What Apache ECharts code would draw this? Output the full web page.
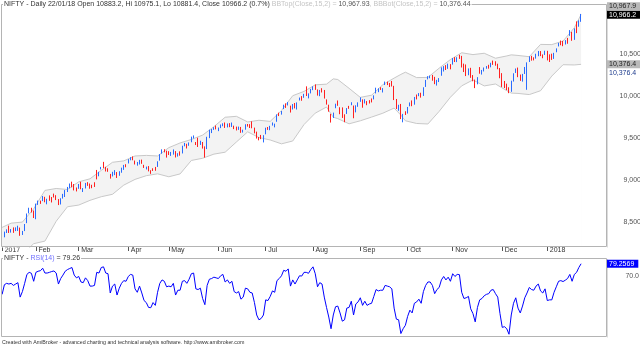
<!DOCTYPE html>
<html>
<head>
<meta charset="utf-8">
<script src="https://cdn.jsdelivr.net/npm/echarts@6/dist/echarts.min.js"></script>
<style>
html,body{margin:0;padding:0;background:#fff;}
#chart{width:640px;height:348px;}
</style>
</head>
<body>
<div id="chart"></div>
<script>
// NIFTY daily candles with Bollinger band (15,2) envelope and an RSI(14) pane

// trading sessions per month
const sessionDays = [
  ['2017-01', [10,11,12,13,16,17,18,19,20,23,24,25,27,30,31]],
  ['2017-02', [1,2,3,6,7,8,9,10,13,14,15,16,17,20,21,22,23,27,28]],
  ['2017-03', [1,2,3,6,7,8,9,10,14,15,16,17,20,21,22,23,24,27,28,29,30,31]],
  ['2017-04', [3,5,6,7,10,11,12,13,17,18,19,20,21,24,25,26,27,28]],
  ['2017-05', [2,3,4,5,8,9,10,11,12,15,16,17,18,19,22,23,24,25,26,29,30,31]],
  ['2017-06', [1,2,5,6,7,8,9,12,13,14,15,16,19,20,21,22,23,27,28,29,30]],
  ['2017-07', [3,4,5,6,7,10,11,12,13,14,17,18,19,20,21,24,25,26,27,28,31]],
  ['2017-08', [1,2,3,4,7,8,9,10,11,14,16,17,18,21,22,23,24,28,29,30,31]],
  ['2017-09', [1,4,5,6,7,8,11,12,13,14,15,18,19,20,21,22,25,26,27,28,29]],
  ['2017-10', [3,4,5,6,9,10,11,12,13,16,17,18,19,23,24,25,26,27,30,31]],
  ['2017-11', [1,2,3,6,7,8,9,10,13,14,15,16,17,20,21,22,23,24,27,28,29,30]],
  ['2017-12', [1,4,5,6,7,8,11,12,13,14,15,18,19,20,21,22,26,27,28,29]],
  ['2018-01', [1,2,3,4,5,8,9,10,11,12,15,16,17,18,19,22]]
];

const opens = [
  8263,8327,8391,8457,8404,8416,8404,8415,8436,8358,8400,8499,8610,8635,8629,
  8570,8715,8748,8758,8801,8765,8794,8798,8819,8819,8775,8739,8800,8818,8894,8919,8955,8943,8904,
  8904,8982,8880,8915,8977,8957,8931,8956,9091,9066,9129,9175,9159,9127,9069,9052,9077,9096,9060,9100,9140,9190,
  9220,9245,9275,9232,9179,9204,9227,9171,9136,9145,9108,9140,9135,9159,9236,9328,9358,9348,
  9339,9306,9320,9341,9308,9320,9328,9420,9433,9421,9462,9517,9454,9469,9433,9454,9392,9380,9516,9582,9613,9635,
  9604,9624,9657,9668,9632,9671,9652,9632,9616,9607,9631,9583,9603,9667,9659,9645,9618,9574,9494,9508,9478,
  9553,9626,9614,9659,9650,9709,9789,9792,9856,9913,9908,9883,9856,9904,9864,9949,9995,9980,10051,9983,10034,
  10101,10128,10076,10000,10075,10065,9956,9894,9782,9759,9863,9914,9850,9864,9783,9804,9881,9907,9886,9811,9906,
  9937,9956,9933,9917,9940,9963,9969,10031,10073,10098,10062,10141,10149,10142,10170,10119,9960,9868,9902,9716,9797,
  9829,9882,9916,9901,10011,10012,10022,10004,10119,10207,10233,10240,10226,10176,10198,10291,10291,10345,10353,10371,
  10390,10440,10424,10468,10477,10370,10339,10295,10323,10228,10180,10152,10325,10285,10314,10341,10365,10344,10401,10413,10376,10333,
  10263,10175,10119,10098,10063,10198,10282,10336,10237,10193,10312,10085,10408,10468,10450,10450,10512,10532,10482,10492,
  10532,10477,10482,10469,10534,10591,10645,10652,10637,10682,10718,10761,10703,10844,10829,10883.2
];

const highs = [
  8294,8390,8417,8461,8420,8440,8440,8460,8438,8398,8480,8605,8673,8673,8640,
  8722,8758,8758,8812,8803,8780,8820,8801,8841,8822,8776,8786,8838,8883,8920,8961,8983,8955,8914,
  8955,8982,8907,8968,8977,8961,8946,8976,9122,9100,9158,9218,9159,9142,9075,9100,9120,9097,9107,9149,9182,9190,
  9250,9274,9283,9234,9217,9242,9245,9183,9162,9168,9119,9142,9158,9225,9310,9367,9368,9351,
  9345,9336,9366,9346,9321,9343,9410,9443,9433,9449,9518,9532,9454,9505,9469,9454,9402,9516,9600,9608,9630,9650,
  9626,9662,9676,9686,9674,9678,9685,9648,9637,9637,9633,9600,9665,9668,9666,9699,9625,9577,9513,9538,9535,
  9624,9632,9646,9686,9672,9782,9802,9822,9897,9913,9928,9886,9905,9917,9924,9982,9999,10026,10115,10032,10085,
  10115,10138,10078,10072,10093,10072,9960,9897,9788,9803,9909,9947,9867,9865,9783,9857,9883,9926,9887,9890,9925,
  9984,9960,9962,9940,9951,9971,10008,10099,10092,10105,10094,10172,10171,10155,10179,10121,9965,9896,9906,9788,9819,
  9870,9924,9948,9989,10018,10035,10039,10104,10191,10236,10243,10251,10228,10192,10213,10341,10355,10367,10385,10379,
  10451,10462,10461,10490,10477,10385,10375,10328,10335,10249,10195,10224,10344,10310,10339,10356,10371,10395,10421,10413,10384,10333,
  10272,10179,10147,10104,10182,10270,10327,10338,10255,10263,10345,10400,10472,10478,10460,10502,10535,10534,10494,10538,
  10537,10495,10503,10513,10566,10631,10659,10655,10664,10690,10783,10762,10804,10887,10899,10975.1
];

const lows = [
  8230,8322,8373,8374,8378,8375,8396,8398,8340,8350,8396,8490,8606,8617,8551,
  8537,8707,8719,8752,8738,8714,8755,8736,8795,8764,8705,8712,8782,8801,8860,8904,8916,8879,8867,
  8898,8893,8860,8902,8933,8899,8905,8920,9010,9047,9128,9143,9104,9100,9019,9045,9061,9027,9053,9089,9123,9154,
  9199,9237,9237,9187,9173,9187,9195,9146,9128,9105,9076,9110,9112,9158,9233,9315,9331,9269,
  9300,9289,9304,9270,9281,9292,9318,9403,9377,9409,9451,9496,9418,9395,9419,9376,9269,9370,9500,9560,9598,9604,
  9583,9619,9641,9621,9627,9630,9633,9607,9591,9598,9563,9566,9600,9637,9620,9617,9557,9495,9474,9488,9449,
  9545,9598,9594,9649,9628,9694,9762,9779,9845,9859,9888,9804,9840,9853,9840,9947,9944,9979,10000,9972,10031,
  10070,10073,10005,9998,10042,9970,9898,9814,9685,9739,9855,9884,9784,9740,9689,9787,9848,9891,9736,9806,9872,
  9931,9861,9912,9891,9911,9924,9960,10031,10046,10072,10042,10131,10130,10107,10113,9952,9846,9825,9726,9688,9775,
  9792,9878,9879,9897,9960,9998,9981,10001,10108,10198,10211,10182,10141,10124,10166,10241,10291,10309,10323,10317,
  10373,10404,10403,10441,10339,10285,10237,10247,10216,10175,10094,10139,10265,10255,10292,10324,10325,10341,10370,10360,10318,10211,
  10108,10095,10070,10034,10050,10172,10274,10224,10180,10171,10262,10074,10404,10420,10423,10444,10473,10474,10449,10488,
  10423,10404,10429,10441,10520,10589,10603,10592,10612,10621,10715,10656,10667,10747,10823,10881.4
];

const closes = [
  8289,8381,8407,8400,8413,8398,8417,8435,8349,8392,8476,8603,8641,8633,8561,
  8716,8734,8741,8801,8768,8769,8778,8794,8805,8792,8725,8778,8822,8879,8908,8927,8940,8897,8880,
  8946,8900,8898,8963,8947,8924,8927,8935,9087,9085,9154,9160,9127,9122,9030,9086,9108,9045,9101,9144,9174,9174,
  9238,9265,9262,9198,9181,9237,9203,9151,9139,9105,9104,9136,9119,9218,9307,9352,9342,9304,
  9314,9312,9360,9285,9314,9317,9407,9422,9401,9445,9512,9526,9429,9428,9438,9386,9361,9510,9595,9605,9625,9621,
  9616,9654,9675,9638,9664,9647,9668,9616,9607,9618,9578,9588,9658,9654,9634,9630,9575,9511,9491,9504,9521,
  9615,9613,9638,9675,9666,9771,9786,9816,9892,9886,9915,9827,9900,9873,9915,9966,9965,10021,10021,10015,10077,
  10115,10082,10014,10066,10057,9979,9908,9820,9711,9794,9897,9904,9837,9754,9766,9853,9857,9913,9796,9884,9918,
  9974,9913,9952,9916,9930,9935,10006,10093,10079,10087,10085,10153,10148,10141,10122,9964,9873,9872,9736,9769,9789,
  9860,9915,9889,9980,9989,10017,9985,10096,10167,10231,10234,10211,10147,10185,10208,10295,10344,10323,10364,10335,
  10441,10424,10453,10452,10350,10303,10309,10322,10225,10187,10118,10215,10284,10299,10327,10342,10349,10390,10400,10370,10361,10227,
  10122,10128,10118,10044,10167,10266,10322,10240,10193,10252,10333,10389,10463,10444,10440,10493,10532,10491,10478,10531,
  10436,10442,10443,10505,10559,10624,10637,10632,10651,10681,10742,10700,10789,10817,10895,10966.2
];

// Bollinger band edges, sampled at these session indices
const bandIdx = [0,4,9,14,19,24,29,34,39,44,49,54,59,64,69,74,79,84,89,94,99,104,109,114,119,124,129,134,139,144,147,149,154,159,164,169,174,177,179,184,189,194,199,204,209,214,219,224,226,229,234,239,244,249,254,257];
const bandUpper = [8440,8490,8503,8660,8879,8902,8890,8981,9017,9117,9213,9230,9288,9295,9288,9387,9443,9484,9536,9636,9748,9759,9692,9712,9699,9828,10004,10055,10133,10141,10204,10196,10092,9984,10010,10135,10213,10257,10283,10219,10221,10331,10433,10514,10492,10508,10449,10476,10489,10482,10467,10613,10611,10653,10811,10967.93];
const bandLower = [7896,7994,8120,8246,8277,8513,8685,8705,8761,8804,8833,8942,9010,9054,9076,9041,9075,9235,9261,9310,9333,9454,9575,9507,9478,9432,9466,9661,9797,9869,9748,9732,9670,9706,9750,9796,9857,9773,9706,9674,9668,9818,9986,10121,10191,10120,10143,10064,10035,10031,10017,10063,10237,10372,10369,10376.44];

const rsi14 = [
  57,64,65,64.5,65,63.5,64.5,65.5,55,59,65,71.5,73,72.3,66.5,
  73,73.8,74.2,76,72.5,72.5,73,73.6,74,72.5,64.5,68.5,71,73.8,75,75.8,76.5,71,69,
  70,66,65.5,69,67,63,63,63.5,73,72.5,76.5,77,72.5,72,58,63,64.5,56.5,61.5,65,67,66.5,
  70,71.5,71,61,58.5,63,58,52.5,51,47.5,47.3,51,49,58.5,65,67.5,66.5,62.5,
  63,62.5,65,56.5,60,60,66.5,67,65,68,72,72.5,61,60.5,61.5,54,49.5,63.5,68,68.5,69.5,69,
  68.5,70.5,71.5,66,67.5,65,66.5,59,58,59,53.5,55,61.5,61,58.5,58,51,42,38.5,39.5,42,
  53,52.5,55.5,59.5,58.5,67,68.5,70.5,74.5,73.8,75.5,63,67.5,64.5,67.5,70.5,70.3,73,73,72.3,75,
  77,72,62.5,65.5,64.5,55,47.5,40.5,32,42,48,48.5,43.5,37.5,38.5,47,47.5,52,42,50,51.5,
  54.5,49,52,49,50,50.5,55.5,60.5,59.5,60,60,63.5,63,62.5,61,47,39,38.5,28.5,32,34.5,
  41,45.5,43.5,50.5,51.5,53.5,50.5,59,63.5,66,66,63.5,57.5,60.5,62,67.5,70,67.5,69.5,66.5,
  72,70,71.5,71.3,58.5,54,54.5,55.5,46.5,43,37,47.5,53,54,56,57,57.5,60,60.5,57.5,55,43,
  33,33.5,32,28,42,50.5,54.5,47,43.5,48.5,54.5,58,62,60.5,60,63,64.5,59.5,58,61,
  52.5,53,53,58.5,62.5,66.5,67,66.3,67.3,68.5,71.5,66.5,71.5,73,76.5,79.2569
];

const monthTickLabels = ['2017','Feb','Mar','Apr','May','Jun','Jul','Aug','Sep','Oct','Nov','Dec','2018'];
const priceTicks = [8500, 9000, 9500, 10000, 10500];
const rsiTicks = [70];

// ---- derived tables ----
const FONT = '"Liberation Sans", Arial, sans-serif';
const dates = [];
sessionDays.forEach(([ym, days]) => days.forEach(d => dates.push(ym + '-' + String(d).padStart(2, '0'))));
const emptySlots = 11;                      // blank space right of the last session
const categories = dates.concat(new Array(emptySlots).fill(''));

const monthStart = {};
let m = 0;
dates.forEach((d, i) => {
  if (i === 0 || d.slice(0, 7) !== dates[i - 1].slice(0, 7)) monthStart[i] = monthTickLabels[m++];
});
const isMonthStart = (i) => Object.prototype.hasOwnProperty.call(monthStart, i);

const candles = dates.map((d, i) => [opens[i], closes[i], lows[i], highs[i]]);
const upperPts = bandIdx.map((i, j) => [i, bandUpper[j]]);
const lowerPts = bandIdx.map((i, j) => [i, bandLower[j]]);

const last = dates.length - 1;
const lastBand = bandUpper.length - 1;
const comma = (v, d) => v.toLocaleString('en-US', { minimumFractionDigits: d, maximumFractionDigits: d });
const [yy, mo, dd] = dates[last].split('-');
const pct = (closes[last] - closes[last - 1]) / closes[last - 1] * 100;

const mainTitle =
  '{d|NIFTY - Daily ' + dd + '/' + mo + '/' + yy.slice(2) +
  ' Open ' + opens[last].toFixed(1) + ', Hi ' + highs[last].toFixed(1) +
  ', Lo ' + lows[last].toFixed(1) + ', Close ' + closes[last].toFixed(1) +
  ' (' + pct.toFixed(1) + '%)}' +
  '{g| BBTop(Close,15,2) = }{v|' + comma(bandUpper[lastBand], 2) + '}' +
  '{g|, BBBot(Close,15,2) = }{v|' + comma(bandLower[lastBand], 2) + '}';
const rsiTitle = '{d|NIFTY - }{r|RSI(14)}{d| = ' + rsi14[last].toFixed(2) + '}';

const richBase = { fontSize: 7, fontFamily: FONT, lineHeight: 9 };

const option = {
  animation: false,
  backgroundColor: '#ffffff',
  textStyle: { fontFamily: FONT },
  title: [
    {
      text: mainTitle, left: 3, top: 0, padding: [0, 1], backgroundColor: '#fff', z: 20,
      textStyle: { fontSize: 7, lineHeight: 9, fontWeight: 'normal', rich: {
        d: Object.assign({ color: '#333333' }, richBase),
        g: Object.assign({ color: '#c4c4c4' }, richBase),
        v: Object.assign({ color: '#555555' }, richBase)
      } }
    },
    {
      text: rsiTitle, left: 3, top: 254, padding: [0, 1], backgroundColor: '#fff', z: 20,
      textStyle: { fontSize: 7, lineHeight: 9, fontWeight: 'normal', rich: {
        d: Object.assign({ color: '#333333' }, richBase),
        r: Object.assign({ color: '#7070ff' }, richBase)
      } }
    }
  ],
  grid: [
    { left: 1, right: 33, top: 4, height: 243, outerBoundsMode: 'none', containLabel: false },
    { left: 1, right: 33, top: 259, height: 78, outerBoundsMode: 'none', containLabel: false }
  ],
  xAxis: [
    {
      type: 'category', gridIndex: 0, data: categories, boundaryGap: true,
      axisLine: { show: false },
      axisTick: { show: true, alignWithLabel: true, length: 4, interval: (i) => isMonthStart(i),
        lineStyle: { color: '#555', width: 1 } },
      axisLabel: { interval: (i) => isMonthStart(i), formatter: (v, i) => monthStart[i] || '',
        align: 'left', padding: [0, 0, 0, 2.5], margin: 0, fontSize: 7, lineHeight: 7,
        color: '#333', fontFamily: FONT, hideOverlap: false },
      splitLine: { show: false }
    },
    {
      type: 'category', gridIndex: 1, data: categories, boundaryGap: true,
      axisLine: { show: false }, axisTick: { show: false }, axisLabel: { show: false },
      splitLine: { show: false }
    }
  ],
  yAxis: [
    {
      type: 'value', gridIndex: 0, position: 'right', min: 8207, max: 11093,
      axisLine: { show: false }, axisTick: { show: false }, splitLine: { show: false },
      axisLabel: { customValues: priceTicks, formatter: (v) => comma(v, 0), align: 'right',
        margin: 34, fontSize: 7, color: '#555', fontFamily: FONT, hideOverlap: false }
    },
    {
      type: 'value', gridIndex: 1, position: 'right', min: 26, max: 82.7,
      axisLine: { show: false }, axisTick: { show: false }, splitLine: { show: false },
      axisLabel: { customValues: rsiTicks, formatter: (v) => v.toFixed(1), align: 'right',
        margin: 32, fontSize: 7, color: '#555', fontFamily: FONT, hideOverlap: false }
    }
  ],
  series: [
    {
      name: 'BBTop', type: 'line', xAxisIndex: 0, yAxisIndex: 0, data: upperPts,
      symbol: 'none', silent: true, z: 1,
      lineStyle: { color: '#c8c8c8', width: 1 },
      areaStyle: { color: '#f3f3f3', opacity: 1, origin: 'start' }
    },
    {
      name: 'BBBot', type: 'line', xAxisIndex: 0, yAxisIndex: 0, data: lowerPts,
      symbol: 'none', silent: true, z: 2,
      lineStyle: { color: '#c8c8c8', width: 1 },
      areaStyle: { color: '#ffffff', opacity: 1, origin: 'start' }
    },
    {
      name: 'NIFTY', type: 'candlestick', xAxisIndex: 0, yAxisIndex: 0, data: candles,
      barWidth: 1.2, z: 3,
      itemStyle: { color: '#2a6cff', color0: '#ff2020', borderColor: '#2a6cff', borderColor0: '#ff2020', borderWidth: 1 }
    },
    {
      name: 'RSI', type: 'line', xAxisIndex: 1, yAxisIndex: 1, data: rsi14,
      symbol: 'none', z: 3,
      lineStyle: { color: '#0000ff', width: 1 }
    }
  ],
  graphic: [
    { type: 'rect', z: 10, silent: true, shape: { x: 1.5, y: 4.5, width: 605, height: 242 },
      style: { fill: 'none', stroke: '#b4b4b4', lineWidth: 1 } },
    { type: 'line', z: 10, silent: true, shape: { x1: 607.5, y1: 5, x2: 607.5, y2: 247.5 },
      style: { stroke: '#dcdcdc', lineWidth: 1 } },
    { type: 'rect', z: 10, silent: true, shape: { x: 1.5, y: 258.5, width: 605, height: 78 },
      style: { fill: 'none', stroke: '#b4b4b4', lineWidth: 1 } },
    { type: 'line', z: 10, silent: true, shape: { x1: 607.5, y1: 259, x2: 607.5, y2: 337.5 },
      style: { stroke: '#dcdcdc', lineWidth: 1 } },
    { type: 'text', z: 10, silent: true,
      style: { text: 'Created with AmiBroker - advanced charting and technical analysis software. http://www.amibroker.com',
        x: 2, y: 343, fill: '#333', font: '5.3px ' + FONT, verticalAlign: 'middle' } }
  ]
};

const chart = echarts.init(document.getElementById('chart'), null, { renderer: 'canvas' });
chart.setOption(option);

// value tags on the right edge of each pane
const yPrice = (v) => chart.convertToPixel({ xAxisIndex: 0, yAxisIndex: 0 }, [0, v])[1];
const yRsi = (v) => chart.convertToPixel({ xAxisIndex: 1, yAxisIndex: 1 }, [0, v])[1];
const yClose = yPrice(closes[last]);
const yTop = Math.min(yPrice(bandUpper[lastBand]), yClose - 8.5);
const yBot = yPrice(bandLower[lastBand]);
const tag = (text, y, bg, fg) => ({
  type: 'text', z: 30, silent: true,
  style: { text: text, x: 607, y: y, fill: fg, backgroundColor: bg, padding: [1, 4, 0, 2],
    font: '7px ' + FONT, verticalAlign: 'middle' }
});
chart.setOption({
  graphic: option.graphic.concat([
    tag(comma(bandUpper[lastBand], 1), yTop, '#b9b9b9', '#222'),
    tag(comma(closes[last], 1), yClose, '#000', '#fff'),
    tag(comma(bandLower[lastBand], 1), yBot, '#b9b9b9', '#222'),
    tag(comma(bandLower[lastBand], 1), yBot + 9, null, '#1c3a8c'),
    tag(rsi14[last].toFixed(4), yRsi(rsi14[last]), '#0000ff', '#fff')
  ])
});
</script>
</body>
</html>
